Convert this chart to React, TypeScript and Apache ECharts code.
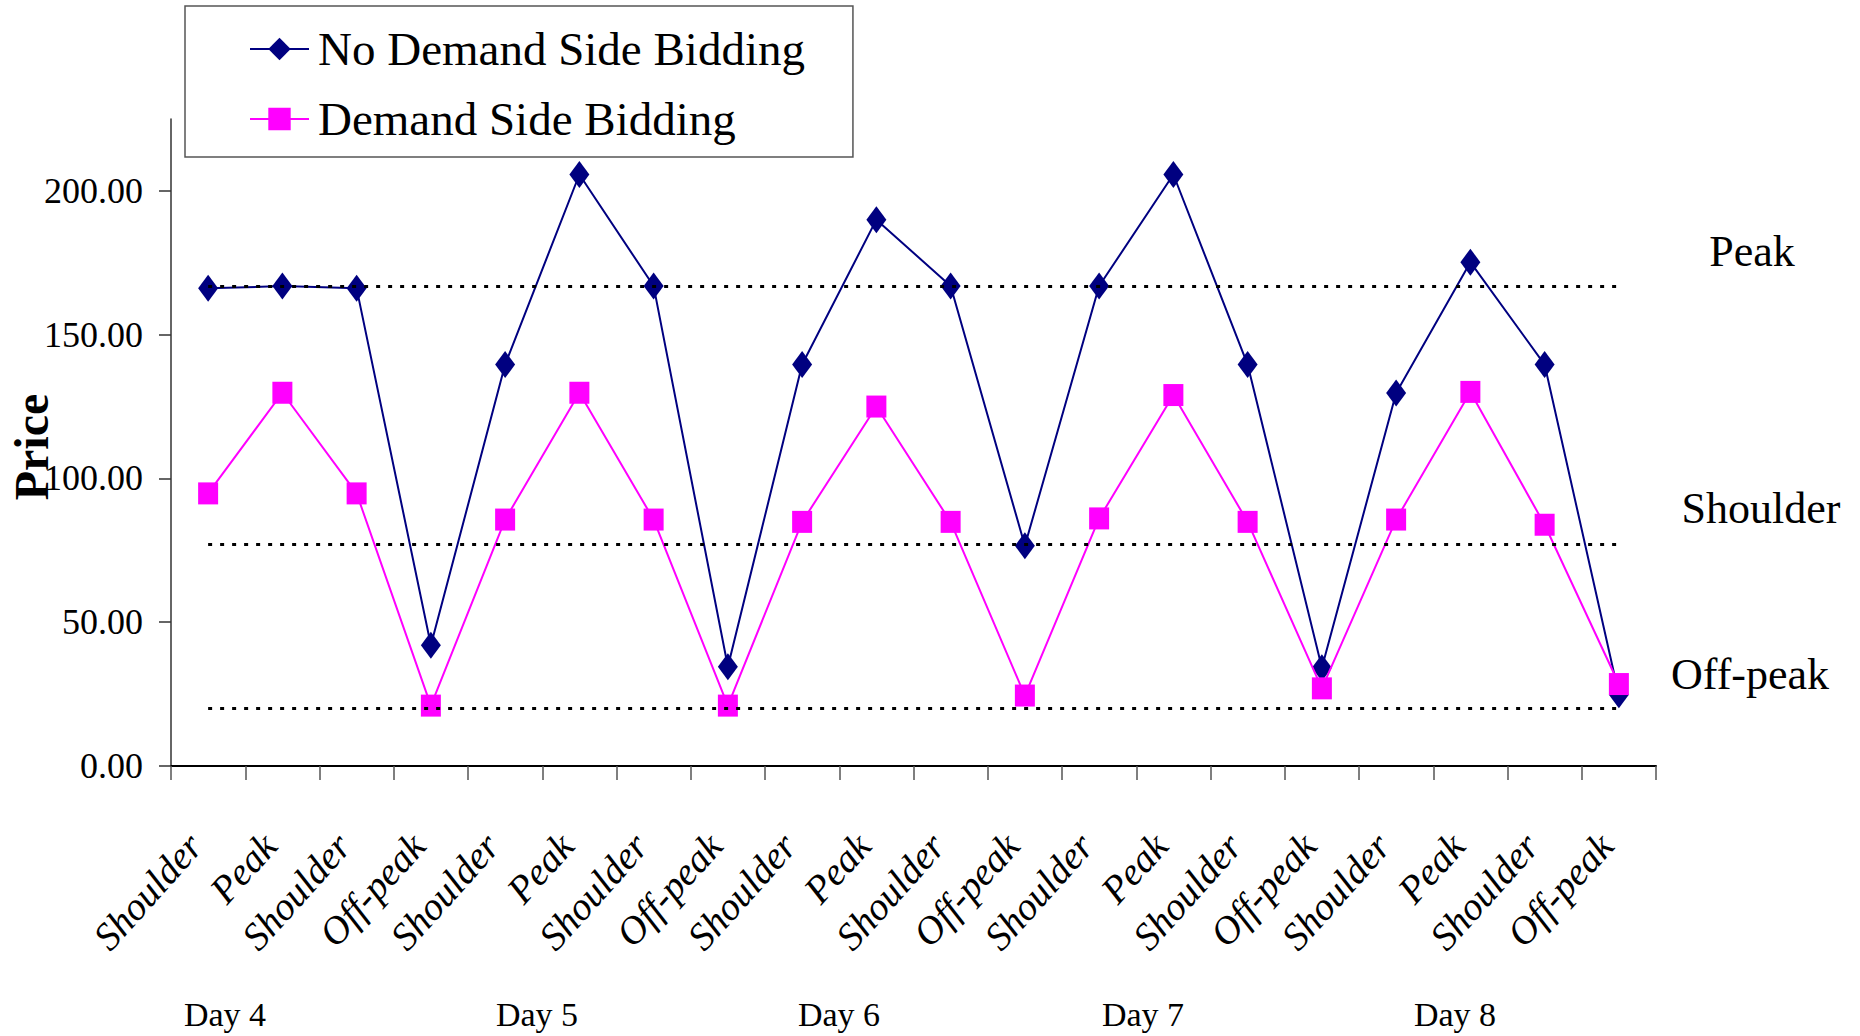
import React, { useEffect, useRef } from "react";
import * as echarts from "echarts";

// Trading periods across Day 4 – Day 8
const periods = [
  "Shoulder", "Peak", "Shoulder", "Off-peak",
  "Shoulder", "Peak", "Shoulder", "Off-peak",
  "Shoulder", "Peak", "Shoulder", "Off-peak",
  "Shoulder", "Peak", "Shoulder", "Off-peak",
  "Shoulder", "Peak", "Shoulder", "Off-peak",
];

// Clearing prices per period
const noDemandSide = [
  166.1, 166.9, 166.1, 42.0, 139.6, 205.7, 166.9, 34.5, 139.6, 190.0,
  166.9, 76.6, 166.9, 205.7, 139.6, 34.2, 129.7, 175.2, 139.6, 24.8,
];
const demandSide = [
  94.8, 129.8, 94.8, 21.0, 85.7, 129.8, 85.7, 21.0, 84.9, 125.0,
  84.9, 24.5, 86.1, 129.0, 84.9, 27.0, 85.7, 130.1, 83.9, 28.5,
];

// Reference price levels (dotted guides) and their names
const levelNames = ["Peak", "Shoulder", "Off-peak"];
const levelValues = [167, 77, 20];

const yTicks = [0, 50, 100, 150, 200];
const dayLabels = ["Day 4", "Day 5", "Day 6", "Day 7", "Day 8"];
const yTitle = "Price";

const SERIF = "'Liberation Serif', 'Times New Roman', serif";

export default function App() {
  const ref = useRef<HTMLDivElement>(null);

  useEffect(() => {
    if (!ref.current) return;
    const chart = echarts.init(ref.current, undefined, { renderer: "svg" });

    const dayX = [225, 537, 839, 1143, 1455];
    const levelLabelPos = [
      [1752, 251],
      [1761, 508],
      [1750, 674],
    ];

    const graphics: any[] = [
      {
        type: "text",
        x: 31,
        y: 447,
        rotation: Math.PI / 2,
        style: {
          text: yTitle,
          font: `bold 48px ${SERIF}`,
          fill: "#000",
          align: "center",
          verticalAlign: "middle",
        },
      },
    ];
    dayLabels.forEach((t, i) => {
      graphics.push({
        type: "text",
        x: dayX[i],
        y: 1014,
        style: {
          text: t,
          font: `34px ${SERIF}`,
          fill: "#000",
          align: "center",
          verticalAlign: "middle",
        },
      });
    });
    levelNames.forEach((t, i) => {
      graphics.push({
        type: "text",
        x: levelLabelPos[i][0],
        y: levelLabelPos[i][1],
        style: {
          text: t,
          font: `44px ${SERIF}`,
          fill: "#000",
          align: "center",
          verticalAlign: "middle",
        },
      });
    });

    chart.setOption({
      animation: false,
      backgroundColor: "#fff",
      grid: {
        left: 171,
        right: 204,
        top: 119,
        bottom: 270,
        containLabel: false,
        outerBoundsMode: "none",
      },
      legend: {
        orient: "vertical",
        left: 185,
        top: 6,
        padding: [15, 48, 10, 64],
        itemWidth: 59,
        itemHeight: 28,
        itemGap: 14,
        borderColor: "#555",
        borderWidth: 1.5,
        textStyle: {
          fontFamily: SERIF,
          fontSize: 47,
          color: "#000",
          lineHeight: 56,
          padding: [0, 0, 0, 4],
        },
        data: ["No Demand Side Bidding", "Demand Side Bidding"],
      },
      xAxis: {
        type: "category",
        data: periods,
        boundaryGap: true,
        axisLine: { lineStyle: { color: "#000", width: 2 } },
        axisTick: { show: true, length: 14, lineStyle: { color: "#555", width: 1.5 } },
        axisLabel: {
          interval: 0,
          rotate: 48,
          margin: 58,
          padding: [0, 20, 0, 0],
          fontFamily: SERIF,
          fontStyle: "italic",
          fontSize: 39,
          color: "#000",
        },
        splitLine: { show: false },
      },
      yAxis: {
        type: "value",
        min: 0,
        max: 225,
        axisLine: { show: true, lineStyle: { color: "#333", width: 1.5 } },
        axisTick: {
          show: true,
          length: 12,
          customValues: yTicks,
          lineStyle: { color: "#333", width: 1.5 },
        },
        axisLabel: {
          customValues: yTicks,
          margin: 28,
          fontFamily: SERIF,
          fontSize: 36,
          color: "#000",
          formatter: (v: number) => v.toFixed(2),
        },
        splitLine: { show: false },
      },
      series: [
        {
          name: "No Demand Side Bidding",
          type: "line",
          data: noDemandSide,
          symbol: "diamond",
          symbolSize: [20, 27],
          itemStyle: { color: "#000080" },
          lineStyle: { color: "#000080", width: 2 },
          z: 3,
          markLine: {
            silent: true,
            symbol: "none",
            label: { show: false },
            lineStyle: { type: [4, 8], color: "#000", width: 3 },
            data: levelValues.map((v) => [
              { coord: [0, v] },
              { coord: [periods.length - 1, v] },
            ]),
          },
        },
        {
          name: "Demand Side Bidding",
          type: "line",
          data: demandSide,
          symbol: "rect",
          symbolSize: [20, 22],
          itemStyle: { color: "#FF00FF" },
          lineStyle: { color: "#FF00FF", width: 2 },
          z: 4,
        },
      ],
      graphic: graphics,
    });

    return () => chart.dispose();
  }, []);

  return (
    <div
      ref={ref}
      style={{
        position: "fixed",
        left: 0,
        top: 0,
        width: 1860,
        height: 1036,
        background: "#fff",
      }}
    />
  );
}
